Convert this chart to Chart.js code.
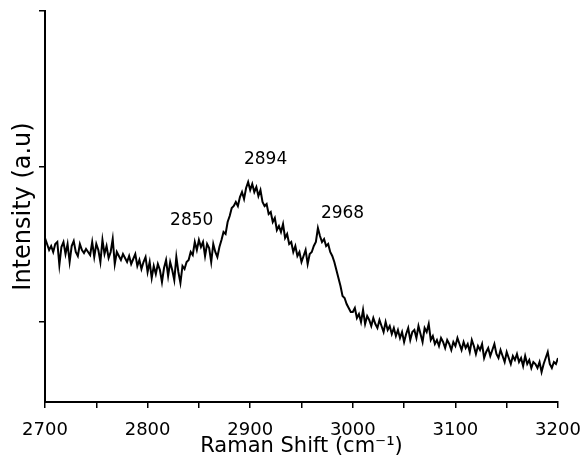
<!DOCTYPE html>
<html>
<head>
<meta charset="utf-8">
<script src="https://cdn.jsdelivr.net/npm/chart.js@4"></script>
<style>
    body { margin: 0; background: #fff; }
    canvas { display: block; }
</style>
</head>
<body>
<canvas id="ramanChart" width="585" height="462"></canvas>
<script>
// Raman shift grid: 2700 to 3200 cm-1, every 2 cm-1
const shiftStart = 2700;
const shiftStep = 2;

// intensity (a.u.), one value per grid step
const intensity = [
    164, 158, 152, 156, 150, 158, 160, 137, 155, 160,
    148, 158, 140, 156, 161, 150, 146, 158, 152, 149,
    153, 150, 147, 160, 145, 158, 152, 140, 162, 148,
    156, 144, 150, 163, 138, 150, 146, 142, 148, 144,
    140, 146, 138, 143, 148, 136, 142, 133, 140, 145,
    130, 140, 124, 136, 128, 138, 132, 120, 134, 142,
    126, 140, 132, 122, 145, 130, 119, 136, 133, 140,
    142, 150, 147, 160, 152, 162, 155, 160, 146, 158,
    154, 140, 158, 150, 145, 155, 162, 170, 168, 180,
    186, 194, 196, 200, 196, 205, 210, 203, 214, 220,
    212, 218, 210, 215, 206, 212, 200, 196, 198, 188,
    190, 180, 184, 172, 176, 170, 178, 164, 168, 158,
    160, 150, 156, 146, 150, 140, 146, 152, 138, 148,
    150, 156, 160, 174, 166, 160, 163, 156, 158, 150,
    146, 140, 132, 124, 116, 106, 104, 98, 94, 90,
    90, 94, 84, 88, 80, 92, 78, 86, 82, 76,
    84, 78, 74, 82, 76, 70, 80, 72, 76, 68,
    74, 66, 72, 64, 70, 60, 68, 74, 62, 70,
    72, 64, 76, 68, 60, 74, 70, 78, 62, 66,
    58, 62, 56, 64, 60, 54, 62, 58, 52, 60,
    56, 64, 58, 52, 60, 54, 58, 50, 62, 56,
    48, 56, 52, 58, 44, 50, 54, 46, 52, 58,
    48, 44, 52, 46, 40, 50, 44, 38, 46, 42,
    48, 40, 44, 36, 46, 38, 42, 34, 40, 38,
    34, 40, 30, 38, 44, 50, 38, 34, 40, 38,
    44
];

const yTicks = [80, 235.5, 391];
const xTickLabels = [2700, 2800, 2900, 3000, 3100, 3200];

// peak labels: text and where they sit (x in cm-1, y in a.u.)
const peakText = ['2850', '2894', '2968'];
const peakX = [2843, 2915, 2990];
const peakY = [181, 242, 188];

const points = intensity.map((v, i) => ({ x: shiftStart + i * shiftStep, y: v }));

const fontFamily = '"DejaVu Sans", "Liberation Sans", Arial, sans-serif';

const peakLabels = {
    id: 'peakLabels',
    afterDatasetsDraw(chart) {
        const ctx = chart.ctx;
        const xs = chart.scales.x;
        const ys = chart.scales.y;
        ctx.save();
        ctx.font = '17px ' + fontFamily;
        ctx.fillStyle = '#000';
        ctx.textAlign = 'center';
        ctx.textBaseline = 'middle';
        peakText.forEach((t, i) => {
            ctx.fillText(t, xs.getPixelForValue(peakX[i]), ys.getPixelForValue(peakY[i]));
        });
        ctx.restore();
    }
};

const ctx = document.getElementById('ramanChart').getContext('2d');

new Chart(ctx, {
    type: 'line',
    data: {
        datasets: [{
            data: points,
            borderColor: '#000',
            borderWidth: 2,
            pointRadius: 0,
            tension: 0,
            fill: false
        }]
    },
    options: {
        responsive: false,
        animation: false,
        layout: {
            padding: { left: 0, right: 27, top: 11, bottom: 0 }
        },
        plugins: {
            legend: { display: false },
            tooltip: { enabled: false }
        },
        scales: {
            x: {
                type: 'linear',
                min: 2700,
                max: 3200,
                afterBuildTicks: (scale) => {
                    const t = [];
                    for (let v = 2700; v <= 3200; v += 50) t.push({ value: v });
                    scale.ticks = t;
                },
                afterFit: (scale) => {
                    scale.height = 60;
                    scale.paddingLeft = 0;
                    scale.paddingRight = 0;
                },
                ticks: {
                    color: '#000',
                    padding: 12,
                    maxRotation: 0,
                    autoSkip: false,
                    font: { family: fontFamily, size: 18 },
                    callback: (v) => xTickLabels.includes(v) ? String(v) : ''
                },
                grid: {
                    drawOnChartArea: false,
                    drawTicks: true,
                    tickLength: 6,
                    color: '#000',
                    lineWidth: 1.5
                },
                border: { display: true, color: '#000', width: 2 },
                title: {
                    display: true,
                    text: 'Raman Shift (cm\u207B\u00B9)',
                    color: '#000',
                    padding: { top: 0, bottom: 3 },
                    font: { family: fontFamily, size: 21 }
                }
            },
            y: {
                min: 0,
                max: 391,
                afterBuildTicks: (scale) => {
                    scale.ticks = yTicks.map(v => ({ value: v }));
                },
                afterFit: (scale) => {
                    scale.width = 45;
                },
                ticks: { display: false },
                grid: {
                    drawOnChartArea: false,
                    drawTicks: true,
                    tickLength: 6,
                    color: '#000',
                    lineWidth: 1.5
                },
                border: { display: true, color: '#000', width: 2 },
                title: {
                    display: true,
                    text: 'Intensity (a.u)',
                    color: '#000',
                    padding: { top: 9, bottom: 1 },
                    font: { family: fontFamily, size: 24 }
                }
            }
        }
    },
    plugins: [peakLabels]
});
</script>
</body>
</html>
